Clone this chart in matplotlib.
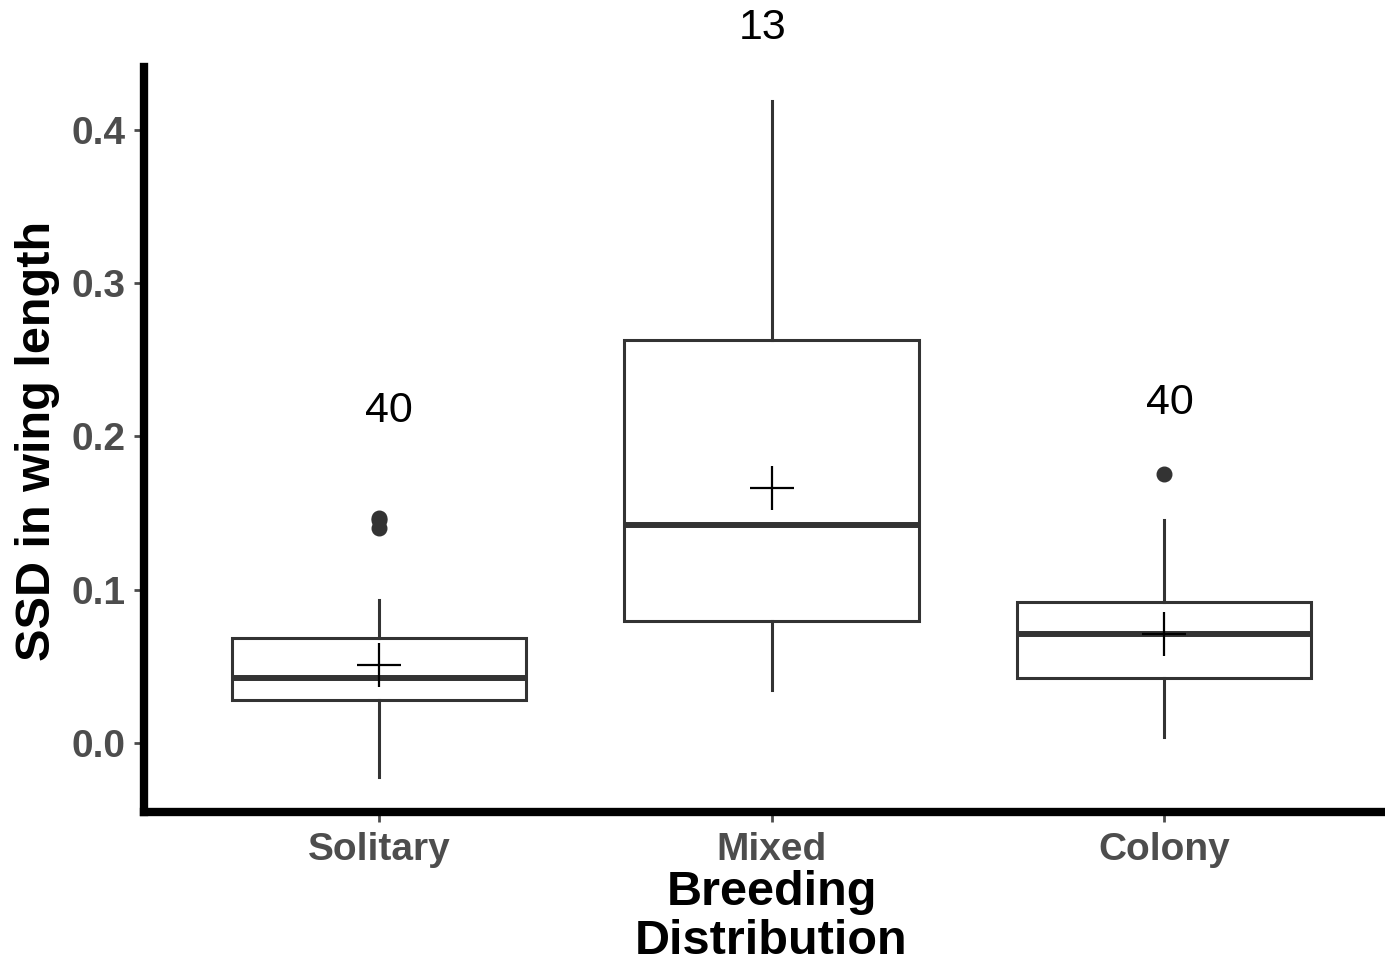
import matplotlib
matplotlib.use('Agg')
import matplotlib.pyplot as plt

categories = ['Solitary', 'Mixed', 'Colony']
q1 = [0.0280, 0.0796, 0.0424]
median = [0.0424, 0.1422, 0.0711]
q3 = [0.0685, 0.2628, 0.0922]
whislo = [-0.0220, 0.0346, 0.0039]
whishi = [0.0933, 0.4187, 0.1455]
means = [0.0509, 0.1663, 0.0710]
outliers = [[0.1470, 0.1455, 0.1400], [], [0.1755]]
count_labels = ['40', '13', '40']
label_x = [1.025, 1.977, 3.015]
label_y = [0.2165, 0.4663, 0.2217]

plt.rcParams['font.family'] = ['Liberation Sans', 'DejaVu Sans']

fig = plt.figure(figsize=(13.85, 9.68), dpi=100)
ax = fig.add_axes([143.5/1385, 1 - 811.5/968, (1399.5-143.5)/1385, (811.5-67)/968])

stats = []
for i, c in enumerate(categories):
    stats.append(dict(label=c, q1=q1[i], med=median[i], q3=q3[i],
                      whislo=whislo[i], whishi=whishi[i], fliers=outliers[i],
                      mean=means[i]))

pos = list(range(1, len(categories) + 1))
dark = '#333333'
ax.bxp(stats, positions=pos, widths=0.75, showcaps=False, showmeans=False,
       patch_artist=True,
       boxprops=dict(facecolor='white', edgecolor=dark, linewidth=2.2),
       medianprops=dict(color=dark, linewidth=4.3, solid_capstyle='butt'),
       whiskerprops=dict(color=dark, linewidth=2.2),
       flierprops=dict(marker='o', markerfacecolor=dark, markeredgecolor=dark,
                       markersize=10.5, linestyle='none'))

ax.plot(pos, means, linestyle='none', marker='+', markersize=32,
        markeredgewidth=1.6, color='black', zorder=5)

for x, y, t in zip(label_x, label_y, count_labels):
    ax.text(x, y, t, ha='center', va='center', fontsize=31, color='black',
            clip_on=False)

ax.set_xlim(0.4, 3.6)
ax.set_ylim(-0.0447, 0.4409)
ax.set_yticks([0.0, 0.1, 0.2, 0.3, 0.4])
ax.set_yticklabels(['0.0', '0.1', '0.2', '0.3', '0.4'])
ax.set_xticks(pos)
ax.set_xticklabels(categories)

for s in ['top', 'right']:
    ax.spines[s].set_visible(False)
for s in ['left', 'bottom']:
    ax.spines[s].set_linewidth(6)
    ax.spines[s].set_color('black')
    ax.spines[s].set_capstyle('projecting')

ax.tick_params(axis='both', colors='#4D4D4D', length=7, width=2,
               labelsize=28, pad=8)
ax.tick_params(axis='y', pad=6)
for lab in ax.get_xticklabels() + ax.get_yticklabels():
    lab.set_fontweight('bold')
    lab.set_color('#4D4D4D')

fig.text(38/1385, 1 - 441/968, 'SSD in wing length', rotation=90,
         ha='center', va='center', fontsize=35, fontweight='bold', color='black')

fig.text(771.5/1385, 1 - 870/968, 'Breeding\nDistribution', ha='center', va='top',
         fontsize=35, fontweight='bold', color='black', linespacing=1.12)

fig.savefig('out.png', dpi=100, facecolor='white')
